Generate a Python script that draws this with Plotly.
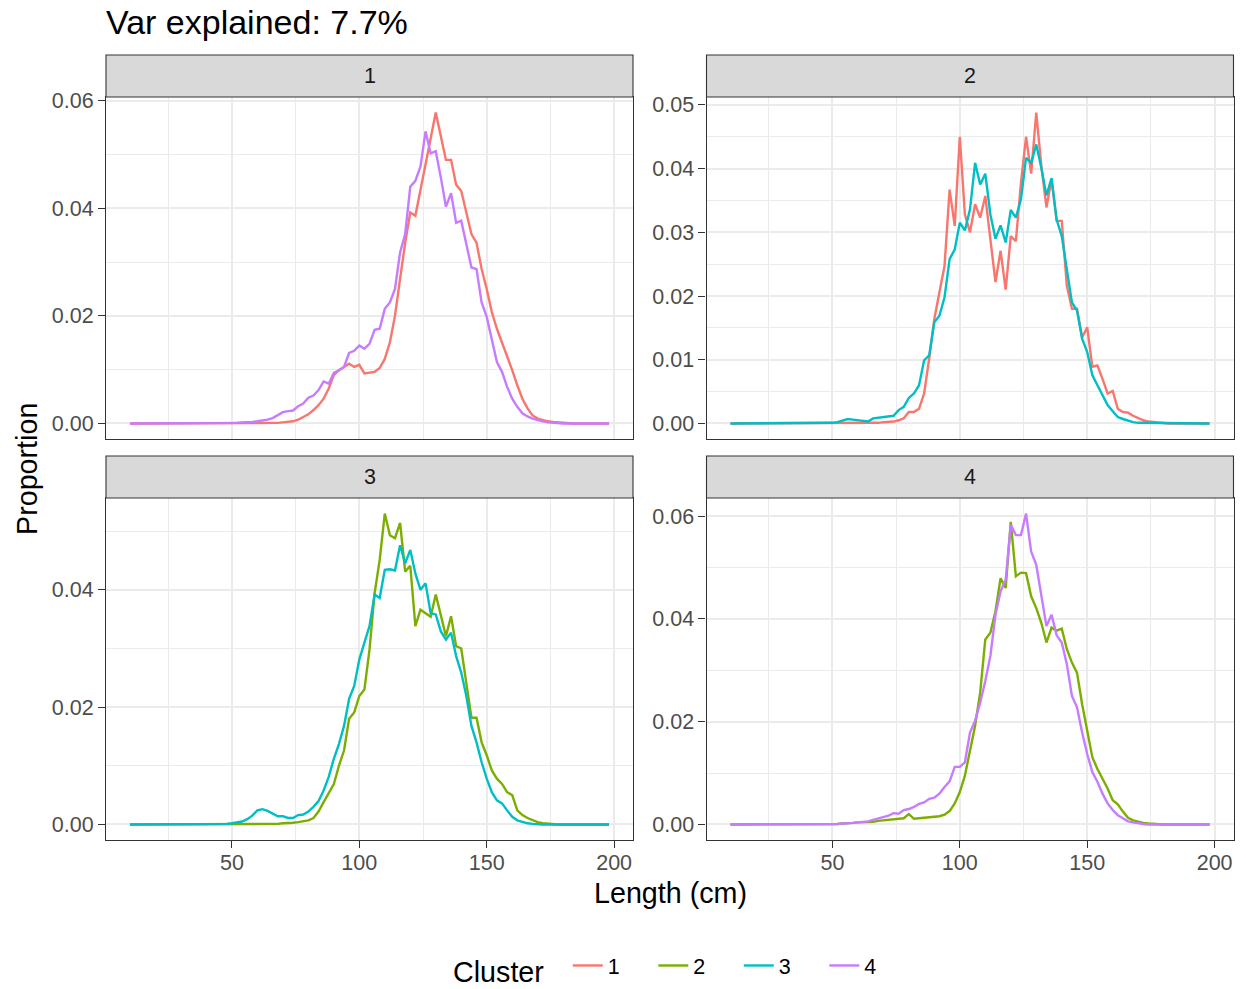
import plotly.graph_objects as go

# ---------------- data ----------------
length_cm = list(range(10, 200, 2))  # 10, 12, ..., 198

facet_labels = ["1", "2", "3", "4"]
cluster_labels = ["1", "2", "3", "4"]

# facet 1
facet1_cluster1 = [
    0, 0, 0, 0, 0, 0, 0, 0, 0, 0,
    0, 0, 0, 0, 0, 0, 0, 0, 0, 0,
    0, 0, 0, 0, 0, 0.0001, 0.0001, 0.0001, 0.0001, 0.0001,
    0.0002, 0.0003, 0.0004, 0.0007, 0.0012, 0.0017, 0.0025, 0.0034, 0.0046, 0.0065,
    0.0090, 0.0099, 0.0105, 0.0111, 0.0105, 0.0109, 0.0093, 0.0094, 0.0096, 0.0103,
    0.0120, 0.0151, 0.0200, 0.0269, 0.0336, 0.0392, 0.0386, 0.0434, 0.0482, 0.0530,
    0.0578, 0.0534, 0.0490, 0.0490, 0.0444, 0.0432, 0.0392, 0.0352, 0.0336, 0.0287,
    0.0250, 0.0207, 0.0176, 0.0151, 0.0127, 0.0099, 0.0071, 0.0046, 0.0028, 0.0015,
    0.0009, 0.0006, 0.0004, 0.0003, 0.0002, 0.0001, 0.0001, 0, 0, 0,
    0, 0, 0, 0, 0,
]
facet1_cluster4 = [
    0, 0, 0, 0, 0, 0, 0, 0, 0, 0,
    0, 0, 0, 0, 0, 0, 0, 0, 0, 0,
    0.0001, 0.0001, 0.0002, 0.0002, 0.0003, 0.0004, 0.0005, 0.0007, 0.0010, 0.0015,
    0.0021, 0.0023, 0.0024, 0.0032, 0.0037, 0.0048, 0.0052, 0.0062, 0.0078, 0.0074,
    0.0094, 0.0099, 0.0105, 0.0131, 0.0135, 0.0145, 0.0139, 0.0148, 0.0174, 0.0176,
    0.0213, 0.0225, 0.0250, 0.0318, 0.0352, 0.0440, 0.0451, 0.0478, 0.0543, 0.0502,
    0.0506, 0.0457, 0.0403, 0.0428, 0.0373, 0.0377, 0.0336, 0.0290, 0.0287, 0.0225,
    0.0198, 0.0157, 0.0114, 0.0096, 0.0068, 0.0046, 0.0031, 0.0019, 0.0013, 0.0009,
    0.0006, 0.0004, 0.0002, 0.0001, 0.0001, 0, 0, 0, 0, 0,
    0, 0, 0, 0, 0,
]

# facet 2
facet2_cluster1 = [
    0, 0, 0, 0, 0, 0, 0, 0, 0, 0,
    0, 0, 0, 0, 0, 0, 0, 0, 0, 0,
    0, 0, 0, 0, 0, 0, 0, 0.0001, 0.0001, 0.0001,
    0.0002, 0.0002, 0.0003, 0.0005, 0.0008, 0.0018, 0.0018, 0.0023, 0.0047, 0.0102,
    0.0164, 0.0206, 0.0247, 0.0367, 0.0310, 0.0450, 0.0328, 0.0300, 0.0344, 0.0323,
    0.0357, 0.0289, 0.0222, 0.0271, 0.0210, 0.0294, 0.0286, 0.0378, 0.0450, 0.0392,
    0.0488, 0.0404, 0.0339, 0.0383, 0.0318, 0.0318, 0.0216, 0.0180, 0.0180, 0.0135,
    0.0151, 0.0089, 0.0091, 0.0070, 0.0047, 0.0051, 0.0023, 0.0018, 0.0017, 0.0012,
    0.0008, 0.0005, 0.0003, 0.0002, 0.0001, 0.0001, 0, 0, 0, 0,
    0, 0, 0, 0, 0,
]
facet2_cluster3 = [
    0, 0, 0, 0, 0, 0, 0, 0, 0, 0,
    0, 0, 0, 0, 0, 0, 0, 0, 0, 0.0001,
    0.0001, 0.0002, 0.0004, 0.0007, 0.0006, 0.0005, 0.0005, 0.0003, 0.0008, 0.0009,
    0.0010, 0.0011, 0.0012, 0.0021, 0.0026, 0.0040, 0.0047, 0.0060, 0.0099, 0.0107,
    0.0159, 0.0169, 0.0198, 0.0258, 0.0273, 0.0315, 0.0303, 0.0336, 0.0409, 0.0375,
    0.0392, 0.0328, 0.0290, 0.0311, 0.0284, 0.0335, 0.0323, 0.0352, 0.0417, 0.0409,
    0.0438, 0.0401, 0.0358, 0.0385, 0.0320, 0.0294, 0.0242, 0.0190, 0.0177, 0.0133,
    0.0112, 0.0076, 0.0060, 0.0044, 0.0029, 0.0019, 0.0010, 0.0007, 0.0004, 0.0002,
    0.0001, 0.0001, 0, 0, 0, 0, 0, 0, 0, 0,
    0, 0, 0, 0, 0,
]

# facet 3
facet3_cluster2 = [
    0, 0, 0, 0, 0, 0, 0, 0, 0, 0,
    0, 0, 0, 0, 0, 0, 0, 0, 0, 0,
    0, 0, 0, 0, 0, 0, 0.0001, 0.0001, 0.0001, 0.0001,
    0.0002, 0.0002, 0.0003, 0.0004, 0.0005, 0.0007, 0.0011, 0.0022, 0.0038, 0.0053,
    0.0069, 0.0100, 0.0126, 0.0180, 0.0191, 0.0219, 0.0230, 0.0298, 0.0394, 0.0451,
    0.0530, 0.0493, 0.0488, 0.0514, 0.0431, 0.0441, 0.0338, 0.0366, 0.0360, 0.0354,
    0.0392, 0.0358, 0.0321, 0.0355, 0.0304, 0.0300, 0.0239, 0.0182, 0.0182, 0.0140,
    0.0118, 0.0092, 0.0078, 0.0069, 0.0055, 0.0050, 0.0024, 0.0016, 0.0011, 0.0007,
    0.0004, 0.0002, 0.0001, 0.0001, 0, 0, 0, 0, 0, 0,
    0, 0, 0, 0, 0,
]
facet3_cluster3 = [
    0, 0, 0, 0, 0, 0, 0, 0, 0, 0,
    0, 0, 0, 0, 0, 0, 0, 0, 0.0001, 0.0001,
    0.0002, 0.0003, 0.0005, 0.0009, 0.0015, 0.0024, 0.0026, 0.0023, 0.0019, 0.0014,
    0.0014, 0.0011, 0.0011, 0.0016, 0.0017, 0.0022, 0.0030, 0.0040, 0.0058, 0.0081,
    0.0112, 0.0137, 0.0168, 0.0214, 0.0236, 0.0281, 0.0310, 0.0338, 0.0392, 0.0386,
    0.0434, 0.0435, 0.0433, 0.0476, 0.0445, 0.0468, 0.0428, 0.0400, 0.0411, 0.0360,
    0.0358, 0.0329, 0.0315, 0.0327, 0.0287, 0.0259, 0.0219, 0.0168, 0.0140, 0.0106,
    0.0078, 0.0055, 0.0041, 0.0036, 0.0024, 0.0013, 0.0007, 0.0004, 0.0002, 0.0001,
    0, 0, 0, 0, 0, 0, 0, 0, 0, 0,
    0, 0, 0, 0, 0,
]

# facet 4
facet4_cluster2 = [
    0, 0, 0, 0, 0, 0, 0, 0, 0, 0,
    0, 0, 0, 0, 0, 0, 0, 0, 0, 0,
    0.0001, 0.0001, 0.0002, 0.0002, 0.0003, 0.0004, 0.0004, 0.0005, 0.0005, 0.0007,
    0.0008, 0.0009, 0.0011, 0.0012, 0.0012, 0.0020, 0.0011, 0.0012, 0.0013, 0.0013,
    0.0014, 0.0016, 0.0019, 0.0026, 0.0041, 0.0063, 0.0095, 0.0147, 0.0192, 0.0257,
    0.0360, 0.0373, 0.0415, 0.0479, 0.0460, 0.0589, 0.0483, 0.0490, 0.0489, 0.0444,
    0.0421, 0.0392, 0.0354, 0.0383, 0.0377, 0.0381, 0.0341, 0.0315, 0.0295, 0.0234,
    0.0179, 0.0131, 0.0108, 0.0089, 0.0070, 0.0047, 0.0039, 0.0025, 0.0013, 0.0008,
    0.0005, 0.0003, 0.0002, 0.0001, 0, 0, 0, 0, 0, 0,
    0, 0, 0, 0, 0,
]
facet4_cluster4 = [
    0, 0, 0, 0, 0, 0, 0, 0, 0, 0,
    0, 0, 0, 0, 0, 0, 0, 0, 0, 0,
    0.0001, 0.0001, 0.0002, 0.0002, 0.0003, 0.0004, 0.0005, 0.0006, 0.0009, 0.0012,
    0.0015, 0.0017, 0.0022, 0.0021, 0.0028, 0.0030, 0.0034, 0.0040, 0.0043, 0.0050,
    0.0052, 0.0060, 0.0073, 0.0084, 0.0112, 0.0112, 0.0121, 0.0179, 0.0202, 0.0237,
    0.0279, 0.0328, 0.0408, 0.0454, 0.0476, 0.0583, 0.0563, 0.0563, 0.0605, 0.0531,
    0.0505, 0.0444, 0.0386, 0.0408, 0.0368, 0.0354, 0.0312, 0.0250, 0.0228, 0.0179,
    0.0137, 0.0102, 0.0083, 0.0060, 0.0041, 0.0028, 0.0018, 0.0012, 0.0006, 0.0004,
    0.0002, 0.0001, 0, 0, 0, 0, 0, 0, 0, 0,
    0, 0, 0, 0, 0,
]

facet_series = {
    "1": [("1", facet1_cluster1), ("4", facet1_cluster4)],
    "2": [("1", facet2_cluster1), ("3", facet2_cluster3)],
    "3": [("2", facet3_cluster2), ("3", facet3_cluster3)],
    "4": [("2", facet4_cluster2), ("4", facet4_cluster4)],
}
y_tick_step = {"1": 0.02, "2": 0.01, "3": 0.02, "4": 0.02}

title_text = "Var explained: 7.7%"
x_title = "Length (cm)"
y_title = "Proportion"
legend_title = "Cluster"

# ---------------- style ----------------
cluster_colors = {"1": "#F8766D", "2": "#7CAE00", "3": "#00BFC4", "4": "#C77CFF"}
W, H = 1246, 989
FONT = "Liberation Sans, Arial, Helvetica, sans-serif"
col_px = [(106, 633), (706.5, 1233.5)]
row_px = [(97, 439), (498, 840)]
STRIP_H = 42
GRID = "#EBEBEB"
DARK = "#333333"
TICK_FONT = 21.5
TITLE_FONT = 28.7

fig = go.Figure()

xmin, xmax = min(length_cm), max(length_cm)
xpad = 0.05 * (xmax - xmin)
xrange_ = [xmin - xpad, xmax + xpad]

shown = set()
shapes = []
annotations = []
for i, fl in enumerate(facet_labels):
    suffix = "" if i == 0 else str(i + 1)
    col, row = i % 2, i // 2
    x0p, x1p = col_px[col]
    y0p, y1p = row_px[row]
    ymax = 0
    for cl, vals in facet_series[fl]:
        ymax = max(ymax, max(vals))
        fig.add_trace(go.Scatter(
            x=length_cm, y=vals, mode="lines",
            line=dict(color=cluster_colors[cl], width=2.4),
            name=cl, legendgroup=cl, legendrank=int(cl),
            showlegend=cl not in shown,
            xaxis="x" + suffix, yaxis="y" + suffix,
        ))
        shown.add(cl)
    ypad = 0.05 * ymax
    step = y_tick_step[fl]
    fig.layout["xaxis" + suffix] = dict(
        domain=[x0p / W, x1p / W], anchor="y" + suffix, range=xrange_,
        tick0=0, dtick=50, automargin=False,
        showgrid=True, gridcolor=GRID, gridwidth=1.6,
        minor=dict(dtick=25, showgrid=True, gridcolor=GRID, gridwidth=0.8),
        showline=True, mirror=True, linecolor=DARK, linewidth=1.1,
        zeroline=False,
        ticks="outside" if row == 1 else "", ticklen=7, tickwidth=1.1, tickcolor=DARK,
        showticklabels=(row == 1), ticklabelstandoff=-4,
        tickfont=dict(family=FONT, size=TICK_FONT, color="#4D4D4D"),
    )
    fig.layout["yaxis" + suffix] = dict(
        domain=[1 - y1p / H, 1 - y0p / H], anchor="x" + suffix,
        range=[-ypad, ymax + ypad], automargin=False,
        tick0=0, dtick=step, tickformat=".2f",
        showgrid=True, gridcolor=GRID, gridwidth=1.6,
        minor=dict(dtick=step / 2, showgrid=True, gridcolor=GRID, gridwidth=0.8),
        showline=True, mirror=True, linecolor=DARK, linewidth=1.1,
        zeroline=False,
        ticks="outside", ticklen=7, tickwidth=1.1, tickcolor=DARK,
        tickfont=dict(family=FONT, size=TICK_FONT, color="#4D4D4D"),
    )
    # strip
    shapes.append(dict(
        type="rect", xref="paper", yref="paper",
        x0=x0p / W, x1=x1p / W, y0=1 - y0p / H, y1=1 - (y0p - STRIP_H) / H,
        fillcolor="#D9D9D9", line=dict(color=DARK, width=1.1), layer="above",
    ))
    annotations.append(dict(
        text=fl, xref="paper", yref="paper",
        x=(x0p + x1p) / 2 / W, y=1 - (y0p - STRIP_H / 2) / H,
        xanchor="center", yanchor="middle", showarrow=False,
        font=dict(family=FONT, size=TICK_FONT, color="#1A1A1A"),
    ))

annotations += [
    dict(text=title_text, xref="paper", yref="paper", x=104 / W, y=1 - 22 / H,
         xanchor="left", yanchor="middle", showarrow=False,
         font=dict(family=FONT, size=34.0, color="black")),
    dict(text=x_title, xref="paper", yref="paper", x=670 / W, y=1 - 893 / H,
         xanchor="center", yanchor="middle", showarrow=False,
         font=dict(family=FONT, size=TITLE_FONT, color="black")),
    dict(text=y_title, xref="paper", yref="paper", x=27 / W, y=1 - 469 / H,
         xanchor="center", yanchor="middle", showarrow=False, textangle=-90,
         font=dict(family=FONT, size=TITLE_FONT, color="black")),
]

fig.update_layout(
    width=W, height=H, autosize=False,
    margin=dict(l=0, r=0, t=0, b=0, pad=0, autoexpand=False),
    paper_bgcolor="white", plot_bgcolor="white",
    font=dict(family=FONT, color="black"),
    shapes=shapes, annotations=annotations,
    legend=dict(
        orientation="h", x=451 / W, xanchor="left", y=1 - 969 / H, yanchor="middle",
        title=dict(text=legend_title + "\u00a0\u00a0", side="left",
                   font=dict(family=FONT, size=TITLE_FONT, color="black")),
        font=dict(family=FONT, size=TICK_FONT, color="black"),
        entrywidth=40.5, bgcolor="rgba(0,0,0,0)", traceorder="normal",
    ),
    hovermode=False,
)

fig.write_html("out.html")
